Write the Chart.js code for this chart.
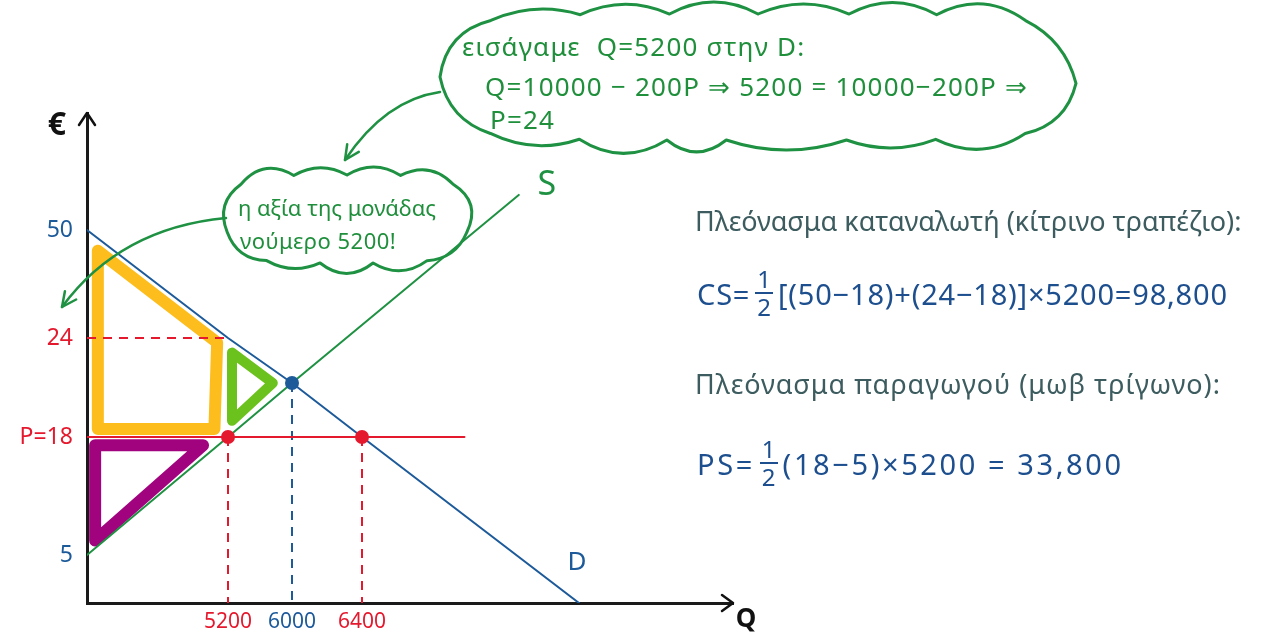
<!DOCTYPE html>
<html><head><meta charset="utf-8">
<script src="https://cdn.jsdelivr.net/npm/chart.js@4.4.1/dist/chart.umd.min.js"></script>
<style>
html,body{margin:0;padding:0;background:#fff;overflow:hidden}
#wrap{position:relative;width:1264px;height:633px}
canvas{position:absolute;left:0;top:0}
.t{position:absolute;white-space:nowrap;font-family:'Noto Sans',sans-serif;line-height:1}
.g{color:#1f8f3c;font-size:26px;letter-spacing:1.2px}
.h{color:#3d5c5f;font-size:27px}
.f{color:#1d4f8f;font-size:29px;letter-spacing:0.8px;display:flex;align-items:center}
.frac{display:inline-flex;flex-direction:column;align-items:center;font-size:24px;line-height:1.1;margin:0 5px;letter-spacing:0}
.frac span:first-child{border-bottom:2px solid currentColor;padding:0 2px}
</style></head><body>
<div id="wrap">
<canvas id="c" width="1264" height="633"></canvas>
<div class="t g" style="left:462px;top:33px">εισάγαμε&nbsp; Q=5200 στην D:</div>
<div class="t g" style="left:485px;top:73px">Q=10000 − 200P ⇒ 5200 = 10000−200P ⇒</div>
<div class="t g" style="left:490px;top:106px">P=24</div>
<div class="t g" style="left:238px;top:196px;font-size:22px;letter-spacing:0">η αξία της μονάδας</div>
<div class="t g" style="left:240px;top:229px;font-size:22px;letter-spacing:0.5px">νούμερο 5200!</div>
<div class="t h" style="left:695px;top:207px">Πλεόνασμα καταναλωτή (κίτρινο τραπέζιο):</div>
<div class="t f" style="left:697px;top:266px">CS=<span class="frac"><span>1</span><span>2</span></span>[(50−18)+(24−18)]×5200=98,800</div>
<div class="t h" style="left:695px;top:370px;letter-spacing:1px">Πλεόνασμα παραγωγού (μωβ τρίγωνο):</div>
<div class="t f" style="left:697px;top:436px;letter-spacing:2.6px">PS=<span class="frac"><span>1</span><span>2</span></span>(18−5)×5200 = 33,800</div>
</div>
<script>
// ---- data ----
const Q_TICKS = [5200, 6000, 6400];
const P_TICKS = [5, 18, 24, 50];
const demandQ = [0, 5200, 6000, 6400, 10000];
const demandP = [50, 24, 20, 18, 0];
const supplyQ = [0, 5200, 6000, 9000];
const supplyP = [5, 18, 20, 53];
const priceQ = [0, 8100];
const priceP = [18, 18];
const eqQ = [6000];
const eqP = [20];
const marketQ = [5200, 6400];
const marketP = [18, 18];
const csQ = [400, 4800, 4700, 400, 400];
const csP = [45, 23.6, 18.3, 18.3, 45];
const greenQ = [5250, 5760, 5250, 5250];
const greenP = [22.7, 20, 18.6, 22.7];
const psQ = [300, 4280, 300, 300];
const psP = [17.1, 17.1, 6.6, 17.1];

const pts = (qs, ps) => qs.map((q, i) => ({x: q, y: ps[i]}));

// hand-drawn (non-uniform) axis spacing: value -> share of axis length
const KNOTS = {
  x: [[0,0],[5200,141],[6000,205],[6400,275],[10000,492],[12000,646]],
  y: [[0,0],[5,48],[18,166],[20,220],[24,265],[50,373],[60,490]]
};

class SketchScale extends Chart.LinearScale {
  _k() { const k = KNOTS[this.axis]; const L = k[k.length-1][1]; return k.map(a => [a[0], a[1]/L]); }
  _frac(v) {
    const k = this._k();
    if (v <= k[0][0]) return k[0][1];
    for (let i = 1; i < k.length; i++) {
      if (v <= k[i][0]) { const [v0,f0] = k[i-1], [v1,f1] = k[i]; return f0 + (v-v0)/(v1-v0)*(f1-f0); }
    }
    return 1;
  }
  getPixelForValue(v) { return v == null ? NaN : this.getPixelForDecimal(this._frac(v)); }
  getValueForPixel(p) {
    const d = this.getDecimalForPixel(p), k = this._k();
    for (let i = 1; i < k.length; i++) {
      if (d <= k[i][1]) { const [v0,f0] = k[i-1], [v1,f1] = k[i]; return v0 + (d-f0)/(f1-f0)*(v1-v0); }
    }
    return k[k.length-1][0];
  }
}
SketchScale.id = 'sketch';
SketchScale.defaults = Chart.LinearScale.defaults;
Chart.register(SketchScale);

const BLUE = '#1d5a9a', GREEN = '#1f9142', RED = '#e5192e', YEL = '#fdbd1c', LIME = '#6cc21c', PURP = '#a1037f';

// scalloped outline around a superellipse
function cloud(ctx, cx, cy, rx, ry, pw, n, b) {
  const M = 2000, base = [];
  for (let i = 0; i <= M; i++) {
    const a = -Math.PI/2 + i*2*Math.PI/M, c = Math.cos(a), s = Math.sin(a);
    base.push([cx + rx*Math.sign(c)*Math.pow(Math.abs(c), 2/pw), cy + ry*Math.sign(s)*Math.pow(Math.abs(s), 2/pw)]);
  }
  const cum = [0];
  for (let i = 1; i <= M; i++) cum.push(cum[i-1] + Math.hypot(base[i][0]-base[i-1][0], base[i][1]-base[i-1][1]));
  const tot = cum[M], sel = [];
  let j = 0;
  for (let k = 0; k <= n; k++) { const t = tot*k/n; while (j < M && cum[j] < t) j++; sel.push(base[j]); }
  ctx.beginPath(); ctx.moveTo(sel[0][0], sel[0][1]);
  for (let k = 1; k <= n; k++) {
    const [x0, y0] = sel[k-1], [x1, y1] = sel[k];
    const dx = x1 - x0, dy = y1 - y0, L = Math.hypot(dx, dy) || 1;
    const h = b * (0.75 + 0.5*((k*37) % 7)/6);
    ctx.quadraticCurveTo((x0+x1)/2 + dy/L*2*h, (y0+y1)/2 - dx/L*2*h, x1, y1);
  }
  ctx.stroke();
}
function curvedArrow(ctx, x0, y0, cx, cy, x1, y1) {
  ctx.beginPath(); ctx.moveTo(x0, y0); ctx.quadraticCurveTo(cx, cy, x1, y1); ctx.stroke();
  const ang = Math.atan2(y1 - cy, x1 - cx), L = 16;
  ctx.beginPath();
  ctx.moveTo(x1 + L*Math.cos(ang + Math.PI - 0.45), y1 + L*Math.sin(ang + Math.PI - 0.45));
  ctx.lineTo(x1, y1);
  ctx.lineTo(x1 + L*Math.cos(ang + Math.PI + 0.45), y1 + L*Math.sin(ang + Math.PI + 0.45));
  ctx.stroke();
}

const decor = {
  id: 'decor',
  afterDraw(chart) {
    const ctx = chart.ctx, a = chart.chartArea, xs = chart.scales.x, ys = chart.scales.y;
    ctx.save();
    ctx.lineCap = 'round'; ctx.lineJoin = 'round';
    // axis arrowheads
    ctx.strokeStyle = '#111'; ctx.lineWidth = 2.5;
    ctx.beginPath(); ctx.moveTo(a.left - 8, a.top + 12); ctx.lineTo(a.left, a.top); ctx.lineTo(a.left + 8, a.top + 12); ctx.stroke();
    ctx.beginPath(); ctx.moveTo(a.right - 11, a.bottom - 8); ctx.lineTo(a.right, a.bottom); ctx.lineTo(a.right - 11, a.bottom + 8); ctx.stroke();
    ctx.fillStyle = '#111'; ctx.font = 'bold 32px "Noto Sans"'; ctx.textAlign = 'center'; ctx.textBaseline = 'middle';
    ctx.fillText('€', a.left - 30, a.top + 13);
    ctx.font = 'bold 26px "Noto Sans"';
    ctx.fillText('Q', a.right + 13, a.bottom + 17);
    // curve labels
    ctx.fillStyle = GREEN; ctx.font = '34px "Noto Sans"';
    ctx.fillText('S', xs.getPixelForValue(supplyQ[supplyQ.length-1]) + 28, ys.getPixelForValue(supplyP[supplyP.length-1]) - 10);
    ctx.fillStyle = BLUE; ctx.font = '26px "Noto Sans"';
    ctx.fillText('D', xs.getPixelForValue(demandQ[demandQ.length-1]) - 2, ys.getPixelForValue(demandP[demandP.length-1]) - 40);
    // thought clouds and arrows
    ctx.strokeStyle = GREEN; ctx.lineWidth = 3;
    cloud(ctx, 758, 77, 318, 63, 5, 16, 11);
    cloud(ctx, 347, 219, 120, 44, 4, 11, 9);
    ctx.lineWidth = 2.5;
    curvedArrow(ctx, 440, 92, 385, 100, 345, 160);
    curvedArrow(ctx, 226, 218, 120, 228, 62, 307);
    ctx.restore();
  }
};

const line = (label, qs, ps, color, w, extra) => Object.assign({
  label, data: pts(qs, ps), showLine: true, borderColor: color, backgroundColor: color,
  borderWidth: w, pointRadius: 0, fill: false, borderJoinStyle: 'round', borderCapStyle: 'round'
}, extra || {});

const tickColorY = c => ({5: BLUE, 50: BLUE})[c.tick && c.tick.value] || RED;
const tickColorX = c => (c.tick && c.tick.value === 6000) ? BLUE : RED;

new Chart(document.getElementById('c'), {
  type: 'scatter',
  data: {
    datasets: [
      line('Equilibrium', eqQ, eqP, BLUE, 0, {showLine: false, pointRadius: 7, pointHoverRadius: 7, order: 0}),
      line('Market points', marketQ, marketP, RED, 0, {showLine: false, pointRadius: 7, pointHoverRadius: 7, order: 1}),
      line('Demand D', demandQ, demandP, BLUE, 2, {order: 2}),
      line('Supply S', supplyQ, supplyP, GREEN, 2, {order: 3}),
      line('P=18', priceQ, priceP, RED, 2, {order: 4}),
      line('24 guide', [0, 5200], [24, 24], RED, 2, {borderDash: [9, 7], borderCapStyle: 'butt', order: 5}),
      line('5200 guide', [5200, 5200], [18, 0], RED, 2, {borderDash: [9, 7], borderCapStyle: 'butt', order: 6}),
      line('6400 guide', [6400, 6400], [18, 0], RED, 2, {borderDash: [9, 7], borderCapStyle: 'butt', order: 7}),
      line('6000 guide', [6000, 6000], [20, 0], BLUE, 2, {borderDash: [9, 7], borderCapStyle: 'butt', order: 8}),
      line('Consumer surplus', csQ, csP, YEL, 12, {order: 9}),
      line('Triangle', greenQ, greenP, LIME, 10, {order: 10}),
      line('Producer surplus', psQ, psP, PURP, 12, {order: 11})
    ]
  },
  options: {
    responsive: false, animation: false, devicePixelRatio: 1,
    layout: {padding: {left: 0, top: 113, right: 531, bottom: 0}},
    plugins: {legend: {display: false}, tooltip: {enabled: false}},
    scales: {
      x: {
        type: 'sketch', position: 'bottom', min: 0, max: 12000,
        grid: {display: false, drawTicks: false},
        border: {display: true, color: '#1a1a1a', width: 3},
        afterBuildTicks: s => { s.ticks = Q_TICKS.map(v => ({value: v})); },
        afterFit: s => { s.height = 30; },
        ticks: {padding: 6, color: tickColorX, font: {family: 'Noto Sans', size: 21}, callback: v => String(v), maxRotation: 0, autoSkip: false}
      },
      y: {
        type: 'sketch', position: 'left', min: 0, max: 60,
        grid: {display: false, drawTicks: false},
        border: {display: true, color: '#1a1a1a', width: 3},
        afterBuildTicks: s => { s.ticks = P_TICKS.map(v => ({value: v})); },
        afterFit: s => { s.width = 87; },
        ticks: {padding: 14, color: tickColorY, font: {family: 'Noto Sans', size: 23}, callback: v => v === 18 ? 'P=18' : String(v), autoSkip: false}
      }
    }
  },
  plugins: [decor]
});
</script>
</body></html>
